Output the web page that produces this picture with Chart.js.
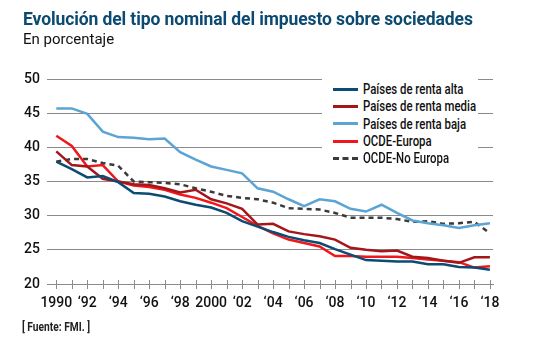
<!DOCTYPE html>
<html>
<head>
<meta charset="utf-8">
<script src="https://cdn.jsdelivr.net/npm/chart.js@4"></script>
<style>
  body { margin: 0; background: #fff; }
  .wrap { position: relative; width: 538px; height: 338px; overflow: hidden; }
  .wrap canvas { position: absolute; left: 0; top: 0; }
  .title { position: absolute; left: 23px; top: 9px; font: 700 17.5px Roboto, sans-serif; color: #0c4a72; letter-spacing: -0.1px; white-space: nowrap; }
  .sub { position: absolute; left: 23px; top: 30px; font: 400 15px Roboto, sans-serif; color: #111; }
  .src { position: absolute; left: 22px; top: 320px; font: 700 12px Roboto, sans-serif; color: #222; transform: scaleX(0.85); transform-origin: 0 0; white-space: nowrap; }
  .legend { position: absolute; left: 322px; top: 76px; width: 156px; height: 90px; background: #fff; }
  .legend div { position: absolute; left: 11px; height: 17px; line-height: 17px; white-space: nowrap; }
  .legend span.ln { display: inline-block; width: 25px; height: 0; border-top: 3px solid; vertical-align: middle; margin-right: 5px; position: relative; top: -1px; }
  .legend span.tx { display: inline-block; font: 500 15px Roboto, sans-serif; color: #111; transform: scaleX(0.76); transform-origin: 0 50%; }
</style>
</head>
<body>
<div class="wrap">
  <canvas id="chart" width="538" height="338"></canvas>
  <div class="title">Evolución del tipo nominal del impuesto sobre sociedades</div>
  <div class="sub">En porcentaje</div>
  <div class="legend" id="legend"></div>
  <div class="src">[ Fuente: FMI. ]</div>
</div>
<script>
const years = [1990, 1991, 1992, 1993, 1994, 1995, 1996, 1997, 1998, 1999, 2000, 2001, 2002, 2003, 2004,
  2005, 2006, 2007, 2008, 2009, 2010, 2011, 2012, 2013, 2014, 2015, 2016, 2017, 2018];

const rentaAlta = [37.9, 36.8, 35.6, 35.8, 34.9, 33.3, 33.2, 32.8, 32.1, 31.6, 31.2, 30.4, 29.2, 28.4, 27.6,
  26.9, 26.4, 26.0, 25.1, 24.3, 23.5, 23.4, 23.3, 23.3, 22.9, 22.9, 22.5, 22.4, 22.1];
const rentaMedia = [39.4, 37.4, 37.2, 35.4, 35.0, 34.6, 34.5, 34.0, 33.4, 33.8, 32.4, 31.8, 31.0, 28.7, 28.8,
  27.7, 27.3, 27.0, 26.5, 25.3, 25.0, 24.8, 24.9, 24.0, 23.8, 23.4, 23.1, 23.9, 23.9];
const rentaBaja = [45.7, 45.7, 44.9, 42.3, 41.5, 41.4, 41.2, 41.3, 39.3, 38.2, 37.2, 36.7, 36.2, 34.0, 33.5,
  32.4, 31.4, 32.4, 32.1, 31.0, 30.6, 31.6, 30.4, 29.3, 28.9, 28.6, 28.2, 28.6, 28.9];
const ocdeEuropa = [41.7, 40.2, 37.2, 37.4, 35.0, 34.4, 34.2, 33.8, 33.1, 32.6, 31.9, 31.1, 29.8, 28.5, 27.4,
  26.5, 26.0, 25.5, 24.1, 24.1, 24.0, 24.0, 24.0, 23.8, 23.6, 23.4, 23.2, 22.4, 22.6];
const ocdeNoEuropa = [37.9, 38.3, 38.3, 37.7, 37.3, 35.0, 34.9, 34.8, 34.6, 34.0, 33.5, 32.9, 32.6, 32.4, 31.9,
  31.1, 31.0, 30.9, 30.4, 29.7, 29.7, 29.7, 29.5, 29.1, 29.2, 28.8, 28.9, 29.1, 27.4];

const yTicks = [20, 25, 30, 35, 40, 45, 50];

const series = [
  { label: 'Países de renta alta', data: rentaAlta, color: '#0b4b74' },
  { label: 'Países de renta media', data: rentaMedia, color: '#a3161a' },
  { label: 'Países de renta baja', data: rentaBaja, color: '#5ba4d4' },
  { label: 'OCDE-Europa', data: ocdeEuropa, color: '#f0161b' },
  { label: 'OCDE-No Europa', data: ocdeNoEuropa, color: '#3a3a3a', dash: [5, 4] }
];

const axisFont = { family: 'Roboto, sans-serif', size: 14, weight: '500' };

// tick marks that cross the baseline, like the original
const crossTicks = {
  id: 'crossTicks',
  afterDatasetsDraw(chart) {
    const x = chart.scales.x, ctx = chart.ctx, base = chart.chartArea.bottom;
    ctx.save();
    ctx.strokeStyle = '#8a8a8a';
    ctx.lineWidth = 1;
    years.forEach(v => {
      const px = Math.round(x.getPixelForValue(v)) + 0.5;
      ctx.beginPath();
      ctx.moveTo(px, base - 4);
      ctx.lineTo(px, base + 5);
      ctx.stroke();
    });
    ctx.restore();
  }
};

new Chart(document.getElementById('chart'), {
  type: 'line',
  data: {
    datasets: series.map(s => ({
      label: s.label,
      data: s.data.map((v, i) => ({ x: years[i], y: v })),
      borderColor: s.color,
      backgroundColor: s.color,
      borderWidth: 2.5,
      borderDash: s.dash || [],
      pointRadius: 0,
      tension: 0
    }))
  },
  options: {
    responsive: false,
    animation: false,
    layout: { padding: { top: 79, right: 45, bottom: 0, left: 0 } },
    scales: {
      x: {
        type: 'linear',
        min: 1989.4,
        max: 2018.2,
        afterBuildTicks: s => { s.ticks = years.map(v => ({ value: v })); },
        afterFit: s => { s.height = 54; },
        grid: { display: false, drawTicks: false },
        border: { display: true, color: '#8a8a8a' },
        ticks: {
          autoSkip: false,
          maxRotation: 0,
          padding: 11,
          color: '#111',
          font: axisFont,
          callback: v => {
            if (v % 2) return '';
            if (v === 1990 || v === 2000) return String(v);
            return '\u2018' + String(v).slice(2);
          }
        }
      },
      y: {
        min: 20,
        max: 50,
        afterBuildTicks: s => { s.ticks = yTicks.map(v => ({ value: v })); },
        afterFit: s => { s.width = 47; },
        grid: { color: '#8a8a8a', drawTicks: false },
        border: { display: false },
        ticks: { padding: 7, color: '#111', font: axisFont }
      }
    },
    plugins: {
      legend: { display: false },
      tooltip: { enabled: false }
    }
  },
  plugins: [crossTicks]
});

// legend
const legend = document.getElementById('legend');
series.forEach((s, i) => {
  const item = document.createElement('div');
  item.style.top = (4 + i * 17.3) + 'px';
  const line = document.createElement('span');
  line.className = 'ln';
  line.style.borderTopColor = s.color;
  if (s.dash) line.style.borderTopStyle = 'dashed';
  const txt = document.createElement('span');
  txt.className = 'tx';
  txt.textContent = s.label;
  item.appendChild(line);
  item.appendChild(txt);
  legend.appendChild(item);
});
</script>
</body>
</html>
